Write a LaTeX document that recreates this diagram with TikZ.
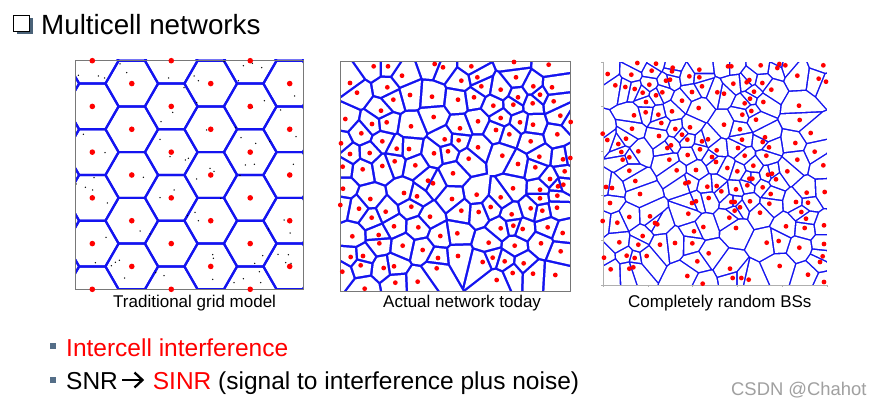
\documentclass[tikz,border=0pt]{standalone}
\usepackage{fontspec}
\setmainfont{Liberation Sans}
\definecolor{vblue}{RGB}{20,20,240}
\definecolor{bshadow}{RGB}{74,98,120}
\definecolor{bulletc}{RGB}{84,110,136}
\definecolor{framec}{RGB}{120,120,120}
\definecolor{axisc}{RGB}{175,175,175}
\definecolor{wmgray}{RGB}{160,160,160}
\definecolor{dotred}{RGB}{255,0,0}

% ---------- point lists (crop origin + zoom/3) ----------
\let\vp\relax
\def\curlist{}
\newcommand\addpts[3]{\foreach \pa/\pb in {#3}{\xdef\curlist{\unexpanded\expandafter{\curlist}\noexpand\vp{\fpeval{round(#1+\pa/3,2)}}{\fpeval{round(#2+\pb/3,2)}}}}}

% panel 2: actual network
\def\curlist{}
\addpts{338}{58}{107/25,150/25,290/18,315/28,400/25,528/12,632/20,
192/53,36/75,148/88,57/104,370/68,418/58,430/85,488/95,534/58,586/85,642/88,606/110,540/118,647/130,
282/116,216/111,166/125,360/125,408/118,466/143,526/140,584/136,
129/158,22/183,287/177,102/198,146/193,219/205,488/180,420/190,546/193,585/200,667/173,698/192,
366/211,474/216,514/229,70/226,133/250,9/256,176/272,213/273,320/244,362/247,420/268,578/250,658/229,
36/288,95/285,288/286,330/280,493/293,604/296,675/304,697/300,
170/310,14/326,74/334,133/324,232/322,392/302,540/318,592/328,345/346,680/340}
\addpts{338}{174}{270/20,285/28,636/15,15/44,198/57,525/43,606/47,660/37,676/32,
97/75,237/67,342/75,416/62,488/70,606/73,658/65,
7/93,63/104,143/113,220/98,370/110,422/114,458/99,521/121,578/103,613/110,657/101,
101/131,276/128,168/157,241/160,488/163,526/155,554/165,629/160,
43/187,122/183,307/186,358/178,674/177,
124/208,194/215,452/206,530/215,609/208,254/228,
38/249,75/246,360/246,300/252,464/251,668/232,
68/274,137/282,168/277,296/283,434/264,500/262,557/268,
13/293,524/297,585/299,652/303,172/326,239/323,476/318,80/344}
\let\listB\curlist

% panel 3: completely random
\def\curlist{}
\addpts{590}{50}{142/39,198/41,248/53,246/64,185/62,53/72,124/74,298/79,328/59,328/82,
76/106,106/111,134/117,178/104,228/92,240/89,336/109,306/126,158/128,217/127,198/136,
168/156,276/152,326/174,167/187,132/196,205/194,246/184,214/219,126/236,256/237,300/232,
38/251,52/270,85/282,108/266,207/258,276/254,292/269,336/274,354/268,243/286,232/294,
145/304,94/306,330/298,118/322,293/315,98/329,238/329,366/321,118/362,260/361,318/360}
\addpts{590}{50}{414/49,424/49,512/46,568/42,586/46,562/54,700/46,622/77,686/86,708/95,
430/101,470/97,478/90,517/99,544/119,382/127,402/131,492/125,480/146,464/160,520/156,627/167,
484/183,457/194,498/209,402/224,629/210,450/238,662/249,525/262,518/276,456/269,537/292,616/279,
380/301,444/294,674/305,464/317,529/317,622/329,378/336,490/347,412/354,442/364,592/364,700/346}
\addpts{590}{50}{48/411,66/414,136/393,150/432,60/459,118/501,180/499,195/519,202/523,38/513,82/518,
158/558,88/577,145/584,210/584,255/579,170/618,110/617,134/624,42/623,62/658,118/656,130/652,
292/678,338/701,286/400,296/397,352/410,356/444,306/459,318/454,295/491,340/531,312/544,307/580,356/610,322/634}
\addpts{590}{50}{478/386,487/386,534/374,546/371,380/408,394/424,438/418,472/406,518/412,558/388,542/432,
650/428,704/426,424/456,434/456,480/454,538/461,618/456,654/458,450/472,434/482,510/488,634/486,648/506,
418/503,438/534,588/529,644/534,702/526,530/578,566/573,628/593,702/582,698/619,690/636,569/648,420/656,
654/674,428/684,454/684,476/689,702/696}
\let\listC\curlist

% ---------- Voronoi by intersecting half-planes (clip) ----------
\def\vorL{900}
\def\vorinner#1#2{%
  \ifdim\dimexpr#1pt-\vxi pt\relax<\vorR pt
  \ifdim\dimexpr\vxi pt-#1pt\relax<\vorR pt
  \ifdim\dimexpr#2pt-\vyi pt\relax<\vorR pt
  \ifdim\dimexpr\vyi pt-#2pt\relax<\vorR pt
    \vorcheck{#1}{#2}%
  \fi\fi\fi\fi}
\def\vorcheck#1#2{%
  \edef\vdx{\fpeval{#1-\vxi}}%
  \edef\vdy{\fpeval{#2-\vyi}}%
  \edef\vdd{\fpeval{sqrt((\vdx)^2+(\vdy)^2)}}%
  \ifnum\fpeval{\vdd>0.05 && \vdd<\vorR}=1
    \edef\vux{\fpeval{(\vdx)/\vdd}}%
    \edef\vuy{\fpeval{(\vdy)/\vdd}}%
    \edef\vmx{\fpeval{(#1+\vxi)/2-\vorw*(\vux)}}%
    \edef\vmy{\fpeval{(#2+\vyi)/2-\vorw*(\vuy)}}%
    \edef\vAx{\fpeval{round(\vmx-\vorL*(\vuy),3)}}%
    \edef\vAy{\fpeval{round(\vmy+\vorL*(\vux),3)}}%
    \edef\vBx{\fpeval{round(\vmx+\vorL*(\vuy),3)}}%
    \edef\vBy{\fpeval{round(\vmy-\vorL*(\vux),3)}}%
    \edef\vCx{\fpeval{round(\vmx-\vorL*(\vux),3)}}%
    \edef\vCy{\fpeval{round(\vmy-\vorL*(\vuy),3)}}%
    \clip (\vAx,\vAy) -- (\vBx,\vBy) -- (\vCx,\vCy) -- cycle;
  \fi}
\def\vorouter#1#2{%
  \begin{scope}
    \def\vxi{#1}\def\vyi{#2}%
    \let\vp\vorinner
    \vorlist
    \fill[white] (\bxa,\bya) rectangle (\bxb,\byb);
  \end{scope}}
\newcommand\drawvoronoi{%
  \begin{scope}
    \clip (\bxa,\bya) rectangle (\bxb,\byb);
    \fill[vblue] (\bxa,\bya) rectangle (\bxb,\byb);
    \let\vp\vorouter
    \vorlist
  \end{scope}}
\def\reddot#1#2{\fill[dotred] (#1,#2) circle (\dotr);}
\newcommand\drawreddots{\begingroup\let\vp\reddot\vorlist\endgroup}

\tikzset{
  hexline/.style={vblue, line width=2.2pt, line join=round},
  frameline/.style={framec, line width=0.9pt},
  lbl/.style={anchor=base west, inner sep=0pt, font=\fontsize{17}{19}\selectfont},
  bodytext/.style={anchor=base west, inner sep=0pt, font=\fontsize{24.5}{27}\selectfont},
}

\begin{document}
\begin{tikzpicture}[x=1pt,y=-1pt]
\useasboundingbox (0,0) rectangle (883,406);
\fill[white] (0,0) rectangle (883,406);

% ---------- title ----------
\fill[bshadow] (16.5,18) rectangle (32.5,34.5);
\fill[white] (13.5,15.5) rectangle (29.5,31.5);
\draw[black, line width=0.9pt] (13.5,15.5) rectangle (29.5,31.5);
\node[anchor=base west, inner sep=0pt, font=\fontsize{27.8}{30}\selectfont] (title) at (41,35) {Multicell networks};

% ---------- panel 1: hexagonal grid ----------
\begin{scope}
  \clip (75,60) rectangle (303.5,289.3);
  \foreach \c in {-1,...,6}{
    \foreach \m in {-2,...,12}{
      \pgfmathtruncatemacro\hp{mod(\c+\m+40,2)}
      \ifnum\hp=0
        \draw[hexline, shift={({92.3+39.48*\c},{60.7+22.86*\m})}]
          (26.32,0) -- (13.16,22.86) -- (-13.16,22.86) -- (-26.32,0) -- (-13.16,-22.86) -- (13.16,-22.86) -- cycle;
      \fi
    }
  }
  \foreach \pa/\pb in {150/42,170/68,25/76,85/78,104/84,296/84,372/78,385/92,342/113,380/158,308/187,273/215,
    40/253,105/308,270/268,300/320,346/330,355/325,380/387,420/355,432/364,220/382,72/383,18/402,68/420,
    112/459,270/443,312/420,452/445,410/240,497/232,513/263,557/280,599/274,678/260,526/345,553/343,670/343,
    510/376,632/180,583/152,547/172,674/138,520/47,547/40,575/53,462/35,505/92,240/552,210/543,108/562,
    352/497,375/487,385/512,642/510,660/549,596/537,578/617,624/613,655/614,647/638,663/640,554/640,
    568/665,572/698,520/686,492/698,428/688,430/625,428/614,282/677,257/668,164/684,148/631,136/637,
    124/647,76/638,46/412}
    {\fill[black] ({70+\pa/3},{50+\pb/3}) circle (0.75);}
\end{scope}
\draw[frameline] (75,60) rectangle (303.5,289.3);
\foreach \c in {0,...,5}{
  \foreach \m in {0,...,10}{
    \pgfmathtruncatemacro\hp{mod(\c+\m+40,2)}
    \ifnum\hp=0
      \fill[dotred] ({92.3+39.48*\c},{60.7+22.86*\m}) circle (2.8);
    \fi
  }
}

% ---------- panel 2: actual network ----------
\def\bxa{340}\def\bya{61}\def\bxb{570}\def\byb{291}
\def\vorR{45}\def\vorw{1.25}
\let\vorlist\listB
\drawvoronoi
\draw[frameline] (340,61) rectangle (570,291);
\def\dotr{2.4}
\drawreddots

% ---------- panel 3: completely random ----------
\def\bxa{603}\def\bya{62}\def\bxb{827}\def\byb{285}
\def\vorR{60}\def\vorw{0.8}
\let\vorlist\listC
\drawvoronoi
\draw[axisc, line width=0.6pt] (603,62) -- (603,285) -- (827,285);
\foreach \k in {0,...,5}{
  \draw[axisc, line width=0.6pt] (601,{62+44.6*\k}) -- (603,{62+44.6*\k});
  \draw[axisc, line width=0.6pt] ({603+44.8*\k},285) -- ({603+44.8*\k},287);
}
\def\dotr{2.4}
\drawreddots

% ---------- panel labels ----------
\node[lbl] (lab1) at (113,307) {Traditional grid model};
\node[lbl] (lab2) at (383,307) {Actual network today};
\node[lbl] (lab3) at (628,307) {Completely random BSs};

% ---------- bullets ----------
\fill[bulletc] (49.5,342.5) rectangle (55.8,348.8);
\fill[bulletc] (49.5,377) rectangle (55.8,383.3);
\node[bodytext, text=dotred] (b1) at (66,356) {Intercell interference};
\node[bodytext] (snr) at (66,389.5) {SNR};
\draw[black, line width=2.3pt] (122,380) -- (141.5,380);
\draw[black, line width=2.3pt, line join=miter] (134.5,372.5) -- (142.5,380) -- (134.5,387.5);
\node[bodytext] (sinr) at (152.7,389.5) {\textcolor{dotred}{SINR} (signal to interference plus noise)};

% ---------- watermark ----------
\node[anchor=base west, inner sep=0pt, text=wmgray, font=\fontsize{18.4}{20}\selectfont] (wm) at (731,395) {CSDN @Chahot};
\end{tikzpicture}
\end{document}
